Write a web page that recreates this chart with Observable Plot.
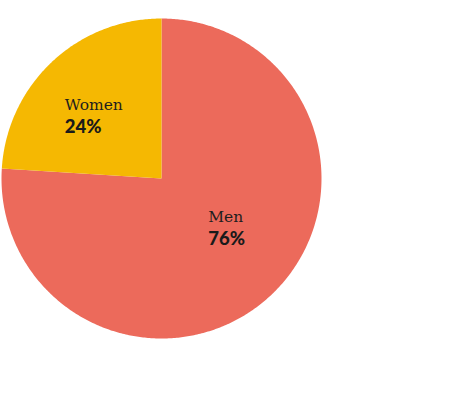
<!DOCTYPE html>
<html><head><meta charset="utf-8">
<script src="https://cdn.jsdelivr.net/npm/d3@7"></script>
<script src="https://cdn.jsdelivr.net/npm/@observablehq/plot@0.6"></script>
<style>body{margin:0;background:#fff}</style>
</head><body><div id="chart"></div>
<script>
const categories = ["Men", "Women"];
const shares = [76, 24];
const labels = ["76%", "24%"];
const colors = ["#ec6a5b", "#f5b802"];

const pie = d3.pie().sort(null).value(d => d)(shares);
const slices = pie.map((p, i) => ({name: categories[i], label: labels[i], start: p.startAngle, end: p.endAngle}));
const outline = [];
for (const s of slices) {
  outline.push({name: s.name, x: 0, y: 0});
  const n = Math.ceil((s.end - s.start) / 0.01);
  for (let k = 0; k <= n; k++) {
    const a = s.start + (s.end - s.start) * k / n;
    outline.push({name: s.name, x: Math.sin(a), y: Math.cos(a)});
  }
}
const cent = slices.map(s => {
  const a = (s.start + s.end) / 2;
  return {...s, x: 0.6 * Math.sin(a), y: 0.6 * Math.cos(a)};
});
const men = cent.filter(d => d.name === "Men");
const women = cent.filter(d => d.name === "Women");
const nameStyle = {x: "x", y: "y", text: "name", textAnchor: "start", fontFamily: "DejaVu Serif", fontSize: 15.5, fill: "#1e1e1e"};
const pctStyle = {x: "x", y: "y", text: "label", textAnchor: "start", fontFamily: "Lato", fontWeight: 900, fontSize: 18.5, fill: "#1a1a1a"};

const chart = Plot.plot({
  width: 459, height: 400,
  margin: 0,
  x: {domain: [-1, 1], range: [1, 321], axis: null},
  y: {domain: [-1, 1], range: [338, 18], axis: null},
  color: {domain: categories, range: colors},
  marks: [
    Plot.line(outline, {x: "x", y: "y", z: "name", fill: "name", stroke: "none", curve: "linear"}),
    Plot.text(women, {...nameStyle, dx: -31, dy: -3}),
    Plot.text(women, {...pctStyle, dx: -31, dy: 19}),
    Plot.text(men, {...nameStyle, dx: -19, dy: -31}),
    Plot.text(men, {...pctStyle, dx: -19, dy: -9})
  ]
});
document.getElementById("chart").append(chart);
</script></body></html>
